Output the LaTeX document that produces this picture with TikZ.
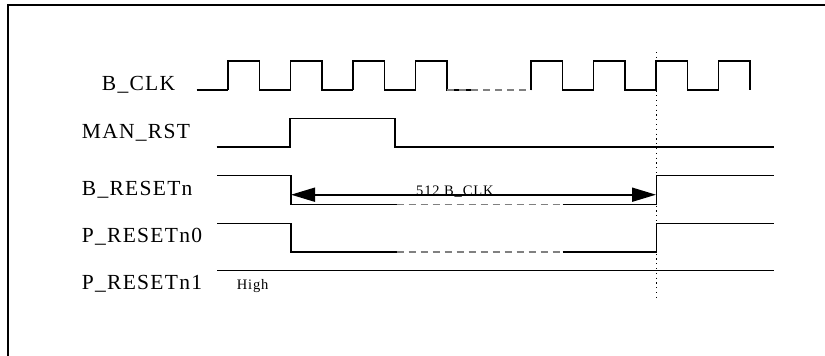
\documentclass[tikz,border=0pt]{standalone}
\usepackage{fontspec}
\setmainfont{Liberation Serif}
\newfontfamily\sigfont[LetterSpace=6]{Liberation Serif}
\usetikzlibrary{arrows.meta}

\tikzset{
	wave/.style={line width=1.4pt, line join=miter},
	gap/.style={line width=1.4pt, color=black!50, dash pattern=on 7pt off 5pt},
	siglabel/.style={anchor=base west, inner sep=0pt, font=\sigfont\fontsize{21.5}{25}\selectfont},
	note/.style={anchor=base west, inner sep=0pt, font=\sigfont\fontsize{14.5}{17}\selectfont}
}

\begin{document}
\begin{tikzpicture}[x=1pt, y=-1pt]
	\useasboundingbox (0,0) rectangle (825,356);

	%frame
	\draw[line width=2pt] (8,356) -- (8,5) -- (825,5);

	%labels
	\node[siglabel] (clk label) at (101.7,90) {B\_CLK};
	\node[siglabel] (rst label) at (81.7,138.3) {MAN\_RST};
	\node[siglabel] (bres label) at (81.7,195) {B\_RESETn};
	\node[siglabel] (pres0 label) at (81.7,242.7) {P\_RESETn0};
	\node[siglabel] (pres1 label) at (81.7,289.3) {P\_RESETn1};
	\node[note] (high) at (236.7,289.3) {High};

	%clock
	\draw[wave] (196.7,90) -- (228,90);
	\foreach \x in {228,290.5,353,415.5}
		\draw[wave] (\x,90) -- (\x,61) -- ++(31.5,0) -- ++(0,29) -- ++(31,0);
	\draw[gap] (447,90) -- (531,90);
	\foreach \x in {531,593.5,656}
		\draw[wave] (\x,90) -- (\x,61) -- ++(31.5,0) -- ++(0,29) -- ++(31,0);
	\draw[wave] (718.5,90) -- (718.5,61) -- ++(31.5,0) -- ++(0,29);

	%MAN_RST
	\draw[wave] (216.7,147) -- (290,147) -- (290,118.3) -- (395,118.3) -- (395,147) -- (774,147);

	%B_RESETn and P_RESETn0
	\foreach \hi/\lo in {175.7/204.3, 223.3/252}
	{
		\draw[wave] (217.3,\hi) -- (291,\hi) -- (291,\lo) -- (396.7,\lo);
		\draw[gap] (396.7,\lo) -- (562.7,\lo);
		\draw[wave] (562.7,\lo) -- (656.5,\lo) -- (656.5,\hi) -- (774,\hi);
	}

	%P_RESETn1
	\draw[wave] (217.3,270.7) -- (774,270.7);

	%marker
	\draw[line width=0.9pt, dash pattern=on 1.2pt off 3.6pt] (656,52) -- (656,300);

	%count
	\draw[line width=1.8pt, {Triangle[length=24pt,width=14pt]}-{Triangle[length=24pt,width=14pt]}]
		(291,194.7) -- coordinate (count mid) (656,194.7);
	\node[note] (count) at (416,195) {512 B\_CLK};
\end{tikzpicture}
\end{document}
